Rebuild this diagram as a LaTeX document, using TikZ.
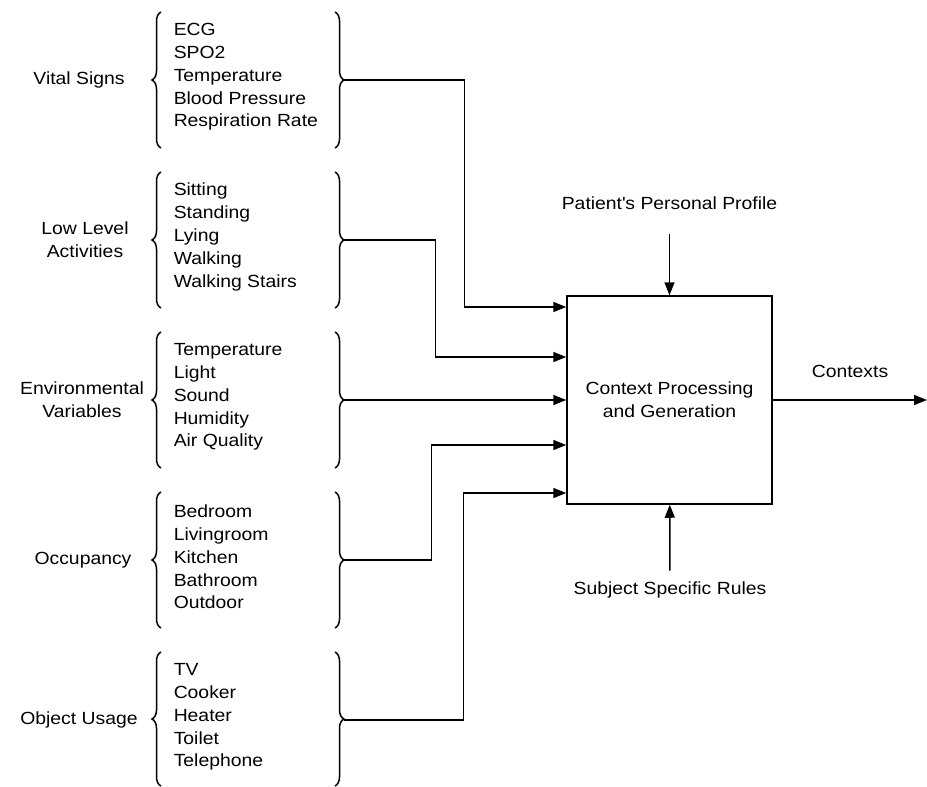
\documentclass[tikz,border=0pt]{standalone}
\usepackage{fontspec}
\setmainfont{Liberation Sans}[FakeStretch=1.1]
\usetikzlibrary{calc,arrows.meta,decorations.pathreplacing}

\begin{document}
\begin{tikzpicture}[x=1pt,y=-1pt,line width=1.5pt,
                    font=\fontsize{17.6}{22.8}\selectfont,
                    main node/.style={draw,minimum width=205pt,minimum height=208pt,align=center},
                    list node/.style={anchor=west,align=left,inner sep=0pt},
                    group node/.style={align=center,inner sep=0pt},
                    curly/.style={decorate,decoration={brace,amplitude=9pt}},
                    arr/.style={-{Triangle[length=13pt,width=10pt]}}]

    \useasboundingbox (0,0) rectangle (927,787);

    \node[main node] (box) at (669.5,400) {Context Processing\\and Generation};
    \node (prof) at (669.5,203) {Patient\textquotesingle s Personal Profile};
    \node (rules) at (670,590) {Subject Specific Rules};
    \node (ctx) at (850,371) {Contexts};
    \coordinate (out) at (927,400);

    \node[group node] (g1) at (79,80) {Vital Signs};
    \node[list node] (l1) at (173,77) {ECG\\SPO2\\Temperature\\Blood Pressure\\Respiration Rate};
    \node[group node] (g2) at (85,240) {Low Level\\Activities};
    \node[list node] (l2) at (173,237) {Sitting\\Standing\\Lying\\Walking\\Walking Stairs};
    \node[group node] (g3) at (82,400) {Environmental\\Variables};
    \node[list node] (l3) at (173,397) {Temperature\\Light\\Sound\\Humidity\\Air Quality};
    \node[group node] (g4) at (83,560) {Occupancy};
    \node[list node] (l4) at (173,557) {Bedroom\\Livingroom\\Kitchen\\Bathroom\\Outdoor};
    \node[group node] (g5) at (79,720) {Object Usage};
    \node[list node] (l5) at (173,717) {TV\\Cooker\\Heater\\Toilet\\Telephone};

    % braces
    \draw[curly] (161,148) -- (161,12);
    \draw[curly] (335,12) -- (335,148);
    \draw[curly] (161,308) -- (161,172);
    \draw[curly] (335,172) -- (335,308);
    \draw[curly] (161,468) -- (161,332);
    \draw[curly] (335,332) -- (335,468);
    \draw[curly] (161,628) -- (161,492);
    \draw[curly] (335,492) -- (335,628);
    \draw[curly] (161,786) -- (161,652);
    \draw[curly] (335,652) -- (335,786);

    \coordinate (t1) at (344,80);
    \coordinate (t2) at (344,240);
    \coordinate (t3) at (344,400);
    \coordinate (t4) at (344,560);
    \coordinate (t5) at (344,720);

    \coordinate (in1) at ($(box.west)+(0,-93)$);
    \coordinate (in2) at ($(box.west)+(0,-43)$);
    \coordinate (in4) at ($(box.west)+(0,45)$);
    \coordinate (in5) at ($(box.west)+(0,93)$);

    \draw[arr] (t1) -| ($(in1)+(-102,0)$) -- (in1);
    \draw[arr] (t2) -| ($(in2)+(-131,0)$) -- (in2);
    \draw[arr] (t3) -- (box.west);
    \draw[arr] (t4) -| ($(in4)+(-135,0)$) -- (in4);
    \draw[arr] (t5) -| ($(in5)+(-103,0)$) -- (in5);

    \draw[arr,shorten <=20pt] (prof) -- (box);
    \draw[arr,shorten <=7pt] (rules) -- (box);
    \draw[arr] (box) -- (out);
\end{tikzpicture}
\end{document}
